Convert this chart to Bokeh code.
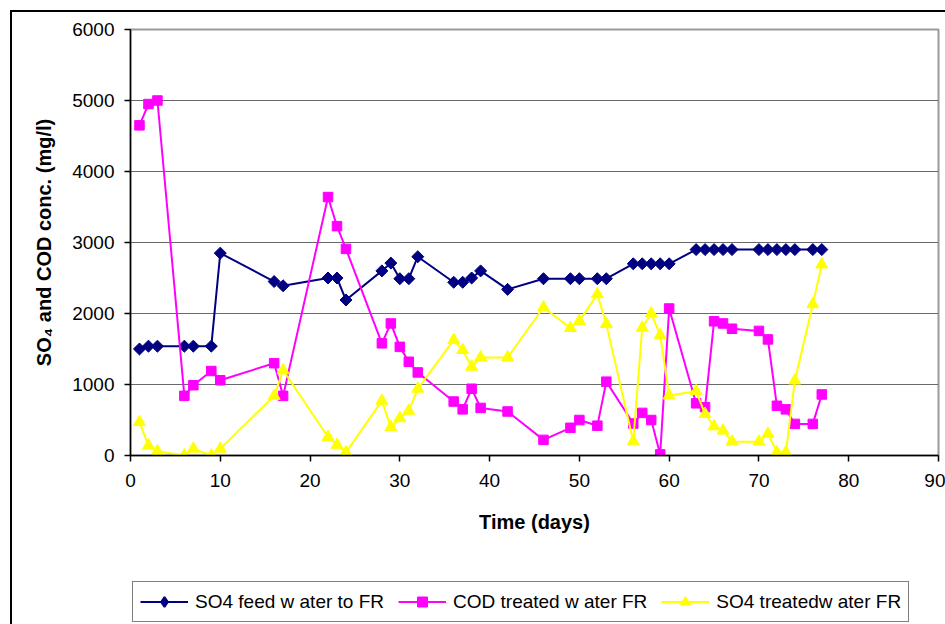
from bokeh.plotting import figure
from bokeh.layouts import column
from bokeh.models import Range1d, Legend, LegendItem, FixedTicker
from bokeh.embed import file_html
from bokeh.resources import INLINE
import numpy as np

# Sampling days (shared by all three series)
days = [1, 2, 3, 6, 7, 9, 10, 16, 17, 22, 23, 24, 28, 29, 30, 31, 32,
        36, 37, 38, 39, 42, 46, 49, 50, 52, 53, 56, 57, 58, 59, 60,
        63, 64, 65, 66, 67, 70, 71, 72, 73, 74, 76, 77]

# SO4 in the feed water to the reactor (mg/l)
so4_feed = [1500, 1540, 1540, 1540, 1540, 1540, 2850, 2450, 2390, 2500, 2500, 2190,
            2600, 2710, 2490, 2490, 2800, 2440, 2440, 2500, 2600, 2340, 2490,
            2490, 2490, 2490, 2490, 2700, 2700, 2700, 2700, 2700,
            2900, 2900, 2900, 2900, 2900, 2900, 2900, 2900, 2900, 2900, 2900, 2900]

# COD of the treated water (mg/l)
cod_treated = [4650, 4950, 5000, 840, 990, 1190, 1060, 1300, 840, 3640, 3230, 2910,
               1580, 1860, 1530, 1320, 1170, 760, 650, 940, 670, 620, 220,
               390, 500, 420, 1040, 450, 600, 500, 15, 2070,
               735, 680, 1890, 1860, 1785, 1755, 1635, 700, 650, 445, 445, 860]

# SO4 in the treated water (mg/l)
so4_treated = [470, 140, 60, 0, 95, 0, 95, 840, 1200, 260, 150, 45,
               770, 400, 525, 630, 940, 1625, 1485, 1250, 1380, 1380, 2085,
               1795, 1895, 2270, 1850, 200, 1800, 2000, 1695, 845,
               905, 585, 410, 350, 195, 195, 305, 45, 45, 1055, 2130, 2690]

x_ticks = [0, 10, 20, 30, 40, 50, 60, 70, 80, 90]
y_ticks = [0, 1000, 2000, 3000, 4000, 5000, 6000]

series_names = ["SO4 feed w ater to FR", "COD treated w ater FR", "SO4 treatedw ater FR"]
series_colors = ["#000080", "#FF00FF", "#FFFF00"]
# (marker, angle, size) on the chart, and the marker used for the legend key
series_markers = [("square", np.pi / 4, 8.5), ("square", 0.0, 9.5), ("triangle", 0.0, 12)]
legend_markers = ["diamond", "square", "triangle"]
series_values = [so4_feed, cod_treated, so4_treated]

FONT = "Liberation Sans"

# ---- main chart -------------------------------------------------------------
p = figure(width=933, height=556,
           x_range=Range1d(0, 90), y_range=Range1d(0, 6000),
           output_backend="svg", toolbar_location=None,
           min_border_left=118, min_border_right=7,
           min_border_top=17, min_border_bottom=113)

p.background_fill_color = "white"
p.border_fill_color = "white"
p.outline_line_color = "#9a9a9a"
p.outline_line_width = 2

p.xgrid.visible = False
p.ygrid.ticker = FixedTicker(ticks=y_ticks)
p.ygrid.grid_line_color = "#6a6a6a"
p.ygrid.grid_line_width = 1

for ax in (p.xaxis[0], p.yaxis[0]):
    ax.axis_line_color = "black"
    ax.axis_line_width = 1.5
    ax.major_tick_line_color = "black"
    ax.major_tick_line_width = 1.5
    ax.major_tick_in = 0
    ax.major_tick_out = 6
    ax.minor_tick_line_color = None
    ax.major_label_text_font = FONT
    ax.major_label_text_font_size = "19px"
    ax.major_label_text_color = "black"
    ax.axis_label_text_font = FONT
    ax.axis_label_text_font_size = "20px"
    ax.axis_label_text_font_style = "bold"
    ax.axis_label_text_color = "black"

p.xaxis.ticker = FixedTicker(ticks=x_ticks)
p.yaxis.ticker = FixedTicker(ticks=y_ticks)
p.xaxis.major_label_standoff = 12
p.yaxis.major_label_standoff = 10
p.xaxis.axis_label = "Time (days)"
p.xaxis.axis_label_standoff = 21
p.yaxis.axis_label = "SO\u2084 and COD conc. (mg/l)"
p.yaxis.axis_label_standoff = 14

for vals, color, (mk, ang, sz) in zip(series_values, series_colors, series_markers):
    p.line(days, vals, line_color=color, line_width=2)
    p.scatter(days, vals, marker=mk, angle=ang, size=sz,
              fill_color=color, line_color=color, line_width=1)

# ---- legend strip under the chart -------------------------------------------
pl = figure(width=933, height=56, x_range=Range1d(0, 1), y_range=Range1d(0, 1),
            output_backend="svg", toolbar_location=None,
            x_axis_location=None, y_axis_location=None, min_border=0)
pl.grid.visible = False
pl.outline_line_color = None
pl.background_fill_color = "white"
pl.border_fill_color = "white"

items = []
for name, color, mk in zip(series_names, series_colors, legend_markers):
    lr = pl.line([-5, -4], [-5, -4], line_color=color, line_width=2)
    mr = pl.scatter([-5], [-5], marker=mk, size=10,
                    fill_color=color, line_color=color,
                    line_width=2 if mk == "diamond" else 1)
    items.append(LegendItem(label=name, renderers=[lr, mr]))

legend = Legend(items=items, orientation="horizontal", location=(2, 2))
legend.label_text_font = FONT
legend.label_text_font_size = "19px"
legend.label_text_color = "black"
legend.glyph_width = 48
legend.glyph_height = 25
legend.label_standoff = 7
legend.spacing = 14
legend.padding = 7
legend.margin = 0
legend.border_line_color = "black"
legend.border_line_width = 1
legend.background_fill_color = "white"
legend.background_fill_alpha = 1
pl.add_layout(legend, "center")

# Outer chart border (left and top edges fall inside the page)
layout = column(p, pl, spacing=0)
layout.margin = (10, 0, 0, 10)
layout.styles = {"border-left": "2px solid #000000", "border-top": "2px solid #000000"}

open("out.html", "w").write(file_html(layout, INLINE))
